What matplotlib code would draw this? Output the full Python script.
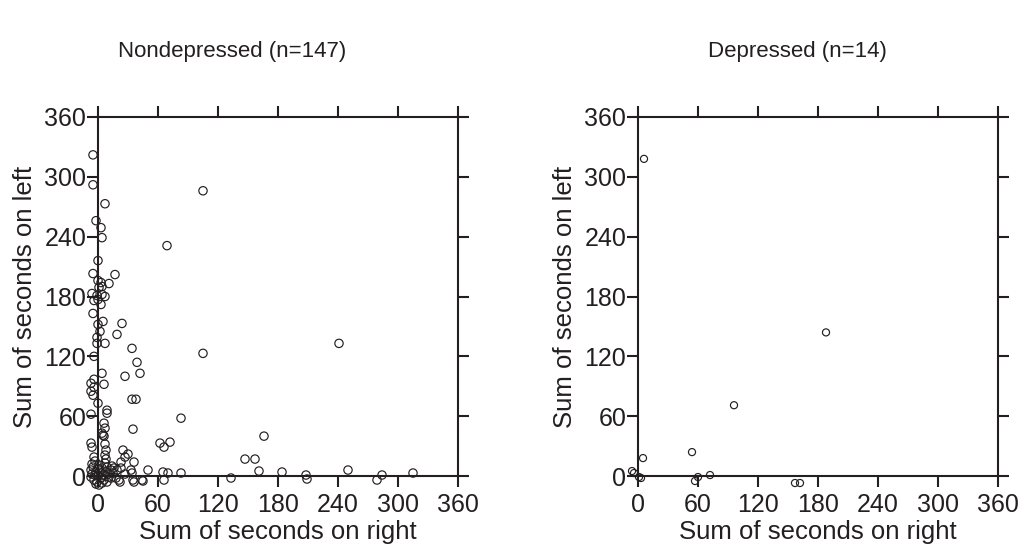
import matplotlib.pyplot as plt

plt.rcParams['font.family'] = ['Liberation Sans', 'DejaVu Sans']

INK = '#231f20'

# Nondepressed (n=147): (right seconds, left seconds)
nondep_right = [
    -5, -5, 7, 105, -2, 3, 4, 69, 0, -5, 17, 0, 3, 11, 1, 4, -6, -1, 4, 7,
    0, -4, 3, -5, 5, 0, 2, 24, 19, -1, -1, 7, 34, -4, 105, 39, 42, 27, 4, 6,
    -4, -7, -4, -7, -5, 34, 38, 0, 9, 9, -7, 83, 6, 7, 35, 5, 6, 4, 166, -7,
    -6, 7, 8, 7, 8, -4, 62, 72, 66, 25, 30, 27, 23, 36, 147, 157, 161, 184, 133, 65,
    70, 66, 83, 50, 45, 33, 34, 35, 36, 22, 241, 208, 209, 250, 279, 284, 315, -5, 1, -7,
    -2, 4, 3, 9, 13, 16, 19, 23, -7, -4, -1, 3, 6, 1, 9, 13, 18, 21, 0, -3,
    2, 5, -6, 10, 15, 27, 7, -2, 4, 44, 11, -6, 8, 0, 14, -3,
]
nondep_left = [
    322, 292, 273, 286, 256, 249, 239, 231, 216, 203, 202, 196, 194, 193, 189, 190, 183, 181, 182, 180,
    177, 176, 172, 163, 155, 152, 145, 153, 142, 139, 133, 133, 128, 120, 123, 114, 103, 100, 103, 92,
    97, 93, 89, 85, 81, 77, 77, 73, 66, 63, 62, 58, 53, 48, 47, 41, 40, 43, 40, 33,
    29, 32, 26, 21, 17, 19, 33, 34, 29, 26, 22, 19, 14, 14, 17, 17, 5, 4, -2, 4,
    3, -4, 3, 6, -5, 6, 3, -4, -6, -6, 133, 1, -3, 6, -4, 1, 3, 9, 11, 6,
    4, 8, 3, 9, 6, 8, 6, 8, -1, -4, -6, -2, -4, -9, -6, -2, -2, -4, 0, 1,
    5, 1, 12, 2, 3, 2, 13, -8, -7, -4, -1, 2, 4, 7, 10, 15,
]

# Depressed (n=14)
dep_right = [6, 188, 96, 54, 5, -6, -4, 3, 57, 60, 72, 157, 162, 1]
dep_left = [318, 144, 71, 24, 18, 5, 3, -2, -5, -1, 1, -7, -7, -1]

ticks = [0, 60, 120, 180, 240, 300, 360]
tick_labels = [str(t) for t in ticks]


def draw_panel(ax, xs, ys, size):
    ax.scatter(xs, ys, s=size, facecolors='none', edgecolors=INK,
               linewidths=0.85, clip_on=False, zorder=3)
    ax.set_xlim(-10, 370)
    ax.set_ylim(-10, 370)
    ax.spines['left'].set_position(('data', 0))
    ax.spines['bottom'].set_position(('data', 0))
    ax.spines['right'].set_position(('data', 360))
    ax.spines['top'].set_position(('data', 360))
    for sp in ax.spines.values():
        sp.set_linewidth(1.5)
        sp.set_color(INK)
        sp.set_bounds(0, 360)
    ax.set_xticks(ticks)
    ax.set_yticks(ticks)
    ax.set_xticklabels(tick_labels)
    ax.set_yticklabels(tick_labels)
    ax.tick_params(direction='out', length=8, width=1.5, color=INK,
                   labelsize=18, labelcolor=INK,
                   top=True, right=True, labeltop=False, labelright=False)
    ax.tick_params(axis='x', pad=4.5)
    ax.tick_params(axis='y', pad=0.5)
    ax.set_xlabel("Sum of seconds on right", fontsize=18.5, color=INK, labelpad=2)
    ax.set_ylabel("Sum of seconds on left", fontsize=18.5, color=INK, labelpad=5)
    ax.patch.set_alpha(0)


fig = plt.figure(figsize=(10.2, 5.49), dpi=100)
ax1 = fig.add_axes([88 / 1020, 1 - 486 / 549, 380 / 1020, 379 / 549])
ax2 = fig.add_axes([628 / 1020, 1 - 486 / 549, 380 / 1020, 379 / 549])

draw_panel(ax1, nondep_right, nondep_left, 36)
draw_panel(ax2, dep_right, dep_left, 26)

fig.text(232 / 1020, 1 - 52 / 549, "Nondepressed (n=147)", ha='center', va='center',
         fontsize=16, color=INK)
fig.text(797 / 1020, 1 - 52 / 549, "Depressed (n=14)", ha='center', va='center',
         fontsize=16, color=INK)

fig.savefig("out.png", dpi=100)
